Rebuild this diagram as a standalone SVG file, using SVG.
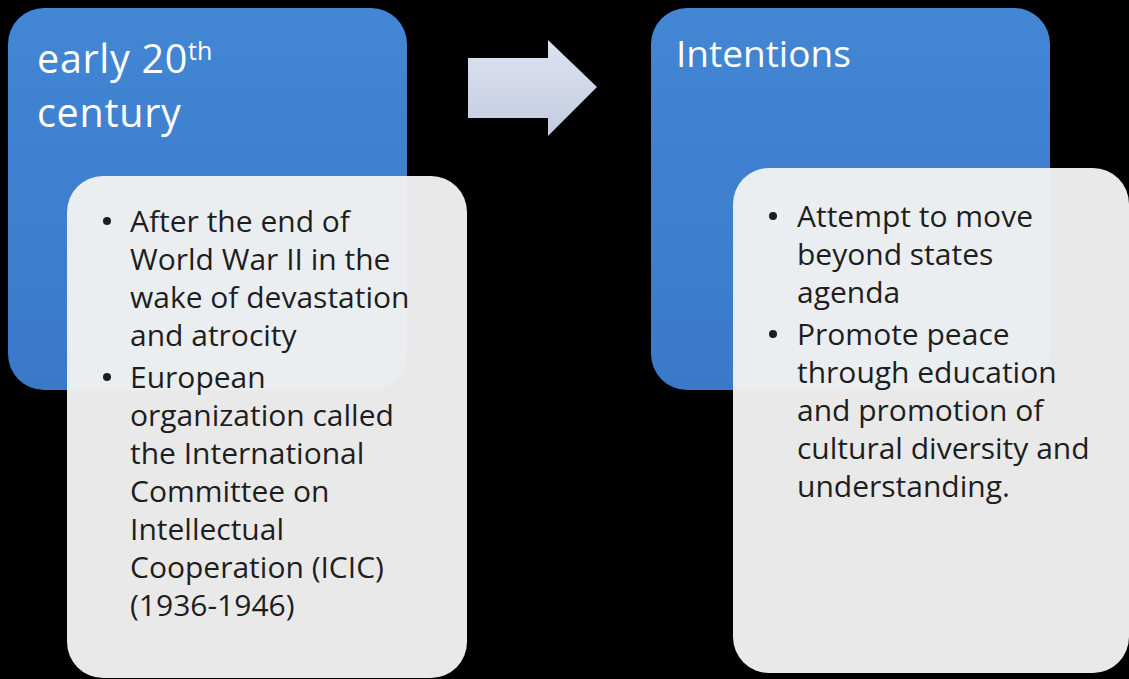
<svg xmlns="http://www.w3.org/2000/svg" width="1129" height="679" viewBox="0 0 1129 679">
  <style>
    .title { font-family: "Open Sans", "Liberation Sans", sans-serif; font-size: 37px; fill: #ffffff; }
    .title-lg { font-size: 39.5px; letter-spacing: 0.7px; }
    .sup { font-size: 25px; letter-spacing: 0; }
    .body { font-family: "Open Sans", "Liberation Sans", sans-serif; font-size: 30px; fill: #1e1e1e; }
    .blue { fill: url(#blueFill); }
    .card { fill: #f2f2f2; fill-opacity: 0.96; }
  </style>
  <defs>
    <linearGradient id="blueFill" x1="0" y1="0" x2="0" y2="1">
      <stop offset="0" stop-color="#4286d4"/>
      <stop offset="1" stop-color="#3a79c9"/>
    </linearGradient>
    <linearGradient id="arrowFill" x1="0" y1="0" x2="0" y2="1">
      <stop offset="0" stop-color="#dde2f0"/>
      <stop offset="1" stop-color="#c4cce0"/>
    </linearGradient>
  </defs>

  <rect width="1129" height="679" fill="#000000"/>

  <!-- first stage: period -->
  <g id="period">
    <rect class="blue" x="8" y="8" width="399" height="382" rx="36"/>
    <text class="title title-lg" x="37" y="73">early 20<tspan class="sup" dy="-13">th</tspan></text>
    <text class="title title-lg" x="37" y="127">century</text>
  </g>

  <g id="period-details">
    <rect class="card" x="67" y="176" width="400" height="502" rx="36"/>
    <g class="body">
      <circle cx="107" cy="221" r="4" fill="#1e1e1e"/>
      <text x="130" y="232">After the end of</text>
      <text x="130" y="270">World War II in the</text>
      <text x="130" y="308">wake of devastation</text>
      <text x="130" y="346">and atrocity</text>
      <circle cx="107" cy="377" r="4" fill="#1e1e1e"/>
      <text x="130" y="388">European</text>
      <text x="130" y="426">organization called</text>
      <text x="130" y="464">the International</text>
      <text x="130" y="502">Committee on</text>
      <text x="130" y="540">Intellectual</text>
      <text x="130" y="578">Cooperation (ICIC)</text>
      <text x="130" y="616">(1936-1946)</text>
    </g>
  </g>

  <!-- connector between stages -->
  <g id="connectors">
    <path d="M468,58 H548 V40 L597,87 L548,136 V118 H468 Z" fill="url(#arrowFill)"/>
  </g>

  <!-- second stage: aims -->
  <g id="intentions">
    <rect class="blue" x="651" y="8" width="399" height="382" rx="36"/>
    <text class="title" x="676" y="67">Intentions</text>
  </g>

  <g id="intentions-details">
    <rect class="card" x="733" y="168" width="396" height="505" rx="36"/>
    <g class="body">
      <circle cx="773" cy="216" r="4" fill="#1e1e1e"/>
      <text x="797" y="227">Attempt to move</text>
      <text x="797" y="265">beyond states</text>
      <text x="797" y="303">agenda</text>
      <circle cx="773" cy="334" r="4" fill="#1e1e1e"/>
      <text x="797" y="345">Promote peace</text>
      <text x="797" y="383">through education</text>
      <text x="797" y="421">and promotion of</text>
      <text x="797" y="459">cultural diversity and</text>
      <text x="797" y="497">understanding.</text>
    </g>
  </g>
</svg>
